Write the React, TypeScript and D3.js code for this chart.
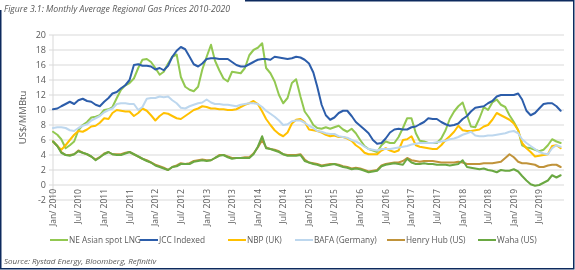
import React, { useEffect, useRef } from 'react';
import * as d3 from 'd3';

// monthly values, Jan 2010 .. Dec 2019 (US$/MMBtu)
const neAsianLng = [
  7.1, 6.7, 6.1, 4.9, 5.3, 5.8, 7.3, 8.0, 8.4, 9.0,
  9.1, 9.3, 10.0, 10.1, 10.4, 11.6, 12.7, 13.3, 13.6, 14.2,
  15.6, 16.7, 16.8, 16.4, 15.6, 14.7, 15.1, 16.2, 17.1, 17.4,
  14.4, 13.1, 12.7, 12.5, 13.1, 15.4, 17.1, 18.7, 16.6, 15.3,
  14.2, 13.8, 15.1, 15.0, 14.9, 15.6, 17.3, 18.0, 18.3, 18.9,
  15.6, 14.9, 13.8, 12.0, 10.9, 11.6, 13.6, 14.1, 11.8, 9.8,
  9.0, 8.0, 7.6, 7.5, 7.7, 7.5, 7.7, 7.9, 7.4, 7.1,
  7.5, 6.9, 6.0, 5.2, 4.8, 4.6, 4.4, 5.3, 5.8, 5.6,
  5.6, 6.4, 7.6, 8.9, 8.9, 6.9, 5.9, 5.8, 5.6, 5.6,
  5.6, 6.2, 7.3, 8.8, 9.8, 10.5, 11.0, 9.3, 7.8, 7.7,
  8.9, 10.4, 10.0, 11.0, 11.4, 10.7, 10.4, 9.3, 8.4, 7.3,
  5.3, 5.0, 4.9, 4.7, 4.5, 4.7, 5.3, 6.1, 5.8, 5.6,
];

const jccIndexed = [
  10.1, 10.2, 10.5, 10.8, 11.1, 10.8, 11.3, 11.5, 11.2, 11.1,
  10.7, 10.5, 11.1, 11.6, 12.2, 12.4, 12.9, 13.3, 14.0, 16.0,
  16.1, 15.9, 15.9, 15.8, 15.4, 15.6, 15.3, 15.9, 17.1, 17.9,
  18.4, 18.1, 17.1, 16.1, 15.8, 16.2, 16.8, 16.9, 16.9, 16.8,
  16.8, 16.8, 16.4, 16.0, 15.8, 15.8, 16.1, 16.4, 16.7, 16.8,
  16.8, 16.7, 17.1, 17.0, 16.9, 16.8, 16.9, 17.1, 17.0, 16.7,
  16.2, 15.0, 13.1, 10.7, 9.3, 8.7, 9.0, 9.6, 9.9, 9.9,
  9.2, 8.4, 7.9, 7.4, 6.9, 6.0, 5.5, 5.6, 6.2, 7.0,
  7.4, 7.5, 7.4, 7.4, 7.7, 7.8, 8.1, 8.4, 8.9, 8.8,
  8.8, 8.4, 8.1, 7.9, 8.0, 8.2, 8.8, 9.2, 9.8, 10.3,
  10.4, 10.5, 10.9, 11.2, 11.8, 12.0, 12.0, 12.0, 12.0, 12.2,
  11.4, 9.9, 9.3, 9.6, 10.2, 10.8, 10.9, 10.9, 10.5, 9.9,
];

const nbpUk = [
  5.8, 5.2, 4.7, 5.3, 6.0, 6.7, 7.2, 7.1, 7.4, 7.8,
  7.9, 8.3, 8.9, 8.8, 9.6, 10.0, 9.9, 9.8, 9.8, 9.2,
  9.6, 10.2, 9.9, 9.3, 8.6, 9.2, 9.6, 9.5, 9.2, 8.9,
  8.8, 9.2, 9.6, 10.0, 10.2, 10.5, 10.4, 10.2, 10.2, 10.1,
  10.1, 10.0, 10.0, 10.1, 10.4, 10.7, 10.9, 11.2, 10.8, 9.8,
  8.8, 8.0, 7.3, 6.8, 6.5, 7.0, 8.2, 8.7, 8.8, 8.4,
  7.4, 7.3, 7.2, 7.0, 6.7, 6.5, 6.6, 6.4, 6.4, 6.2,
  5.9, 5.3, 4.9, 4.3, 4.1, 4.1, 4.1, 4.6, 4.9, 4.6,
  4.4, 4.6, 6.0, 6.1, 6.5, 5.3, 5.1, 5.0, 4.9, 4.8,
  4.8, 5.3, 6.0, 6.5, 7.1, 7.9, 7.3, 7.2, 7.2, 7.3,
  7.4, 7.8, 8.0, 8.7, 9.6, 9.3, 9.0, 8.7, 8.2, 7.3,
  5.6, 4.9, 4.4, 3.8, 3.9, 4.0, 4.1, 5.2, 5.3, 4.9,
];

const bafaGermany = [
  7.6, 7.7, 7.7, 7.6, 7.3, 7.2, 7.6, 7.9, 8.1, 8.6,
  8.9, 9.2, 9.7, 10.0, 10.2, 10.8, 10.9, 10.9, 10.8, 10.8,
  10.0, 10.4, 11.5, 11.6, 11.6, 11.8, 11.7, 11.8, 11.3, 10.9,
  10.3, 10.2, 10.5, 10.7, 10.9, 11.0, 11.4, 11.0, 10.8, 10.8,
  10.7, 10.7, 10.6, 10.5, 10.7, 10.8, 10.9, 10.9, 10.8, 10.4,
  9.9, 9.5, 9.1, 8.6, 8.0, 8.1, 8.5, 8.6, 8.6, 8.3,
  7.9, 7.6, 7.2, 7.1, 6.9, 6.8, 6.8, 6.5, 6.4, 6.3,
  6.0, 5.8, 5.5, 5.1, 4.8, 4.7, 4.6, 4.8, 4.8, 4.8,
  4.9, 5.0, 5.1, 5.2, 5.4, 5.5, 5.6, 5.6, 5.6, 5.6,
  5.7, 5.8, 5.9, 6.1, 6.2, 6.4, 6.7, 6.9, 7.1, 6.6,
  6.5, 6.5, 6.6, 6.6, 6.7, 6.8, 6.9, 7.1, 7.2, 6.9,
  6.1, 5.6, 5.2, 4.8, 4.4, 4.2, 4.1, 4.9, 5.3, 5.1,
];

const henryHub = [
  5.8, 5.2, 4.4, 4.0, 4.0, 4.1, 4.6, 4.3, 4.1, 3.8,
  3.4, 3.7, 4.2, 4.4, 4.1, 4.1, 4.1, 4.3, 4.4, 4.1,
  3.8, 3.5, 3.3, 3.0, 2.7, 2.5, 2.3, 2.0, 2.4, 2.6,
  2.9, 2.8, 2.9, 3.2, 3.3, 3.4, 3.3, 3.3, 3.6, 4.0,
  4.0, 3.8, 3.6, 3.6, 3.6, 3.7, 3.7, 4.2, 5.0, 6.0,
  5.0, 4.8, 4.7, 4.5, 4.1, 4.0, 4.0, 4.0, 4.1, 3.4,
  3.0, 2.9, 2.8, 2.6, 2.7, 2.8, 2.8, 2.7, 2.5, 2.4,
  2.2, 2.3, 2.2, 2.0, 1.8, 1.9, 2.0, 2.6, 2.8, 2.9,
  3.0, 3.0, 3.2, 3.6, 3.3, 3.2, 3.1, 3.2, 3.2, 3.2,
  3.1, 3.0, 3.0, 3.0, 3.0, 3.1, 3.0, 2.8, 2.8, 2.8,
  2.8, 2.9, 2.9, 2.9, 3.0, 3.1, 3.6, 4.1, 3.7, 3.1,
  2.9, 2.9, 2.8, 2.7, 2.4, 2.4, 2.6, 2.7, 2.7, 2.4,
];

const wahaUs = [
  5.8, 5.2, 4.3, 4.0, 3.9, 4.1, 4.5, 4.3, 4.1, 3.8,
  3.3, 3.7, 4.1, 4.4, 4.1, 4.0, 4.0, 4.2, 4.4, 4.1,
  3.8, 3.5, 3.2, 3.0, 2.6, 2.4, 2.2, 2.0, 2.4, 2.5,
  2.8, 2.8, 2.8, 3.1, 3.2, 3.3, 3.2, 3.3, 3.6, 3.9,
  4.0, 3.7, 3.5, 3.6, 3.6, 3.6, 3.6, 4.1, 5.1, 6.5,
  4.9, 4.8, 4.6, 4.4, 4.1, 3.9, 3.9, 3.9, 4.0, 3.2,
  3.0, 2.8, 2.7, 2.5, 2.6, 2.7, 2.8, 2.6, 2.4, 2.3,
  2.1, 2.2, 2.1, 1.9, 1.7, 1.8, 1.9, 2.5, 2.7, 2.8,
  2.9, 2.8, 2.7, 3.5, 3.0, 2.8, 2.8, 2.9, 2.8, 2.8,
  2.7, 2.7, 2.7, 2.6, 2.7, 2.8, 3.3, 2.4, 2.3, 2.2,
  2.1, 2.2, 2.0, 1.9, 1.7, 2.0, 1.9, 1.9, 2.1, 1.8,
  1.2, 0.6, 0.1, -0.1, 0.0, 0.3, 0.6, 1.3, 1.0, 1.3,
];

const seriesNames = ['NE Asian spot LNG', 'JCC Indexed', 'NBP (UK)', 'BAFA (Germany)', 'Henry Hub (US)', 'Waha (US)'];
const seriesColors = ['#92C851', '#2C5DAA', '#FFC000', '#BDD7EE', '#C0933A', '#6AA842'];

const yTicks = [-2, 0, 2, 4, 6, 8, 10, 12, 14, 16, 18, 20];

const xTickLabels = [
  'Jan/ 2010', 'Jul/ 2010', 'Jan/ 2011', 'Jul/ 2011', 'Jan/ 2012',
  'Jul/ 2012', 'Jan/ 2013', 'Jul/ 2013', 'Jan/ 2014', 'Jul/ 2014',
  'Jan/ 2015', 'Jul/ 2015', 'Jan/ 2016', 'Jul/ 2016', 'Jan/ 2017',
  'Jul/ 2017', 'Jan/ 2018', 'Jul/ 2018', 'Jan/ 2019', 'Jul/ 2019',
];

const App = () => {
  const svgRef = useRef<SVGSVGElement>(null);

  useEffect(() => {
    const width = 575;
    const height = 270;
    const font = '"Open Sans", "Noto Sans", sans-serif';
    const textColor = '#595959';

    const svg = d3.select(svgRef.current);
    svg.selectAll('*').remove();
    svg.attr('width', width).attr('height', height);

    const start = new Date(2010, 0, 1);
    const months = d3.range(neAsianLng.length).map((i) => d3.timeMonth.offset(start, i));

    const x = d3.scaleTime().domain([start, new Date(2020, 0, 1)]).range([53, 565]);
    const y = d3.scaleLinear().domain([-2, 20]).range([200, 35]);

    // frame
    svg
      .append('path')
      .attr('d', `M245,0.75 H573.75 V268.75 H0.75 V10`)
      .attr('fill', 'none')
      .attr('stroke', '#0D2A5E')
      .attr('stroke-width', 1.5);

    // title
    svg
      .append('text')
      .attr('x', 4)
      .attr('y', 12)
      .attr('font-family', font)
      .attr('font-style', 'italic')
      .attr('font-size', '8.7px')
      .attr('fill', textColor)
      .text('Figure 3.1: Monthly Average Regional Gas Prices 2010-2020');

    // gridlines
    svg
      .append('g')
      .selectAll('line')
      .data(yTicks)
      .join('line')
      .attr('x1', 53)
      .attr('x2', 564)
      .attr('y1', (d) => y(d))
      .attr('y2', (d) => y(d))
      .attr('stroke', '#D9D9D9')
      .attr('stroke-width', 1);

    // y axis line + ticks
    svg
      .append('line')
      .attr('x1', 53)
      .attr('x2', 53)
      .attr('y1', y(20))
      .attr('y2', y(-2))
      .attr('stroke', '#D9D9D9');
    svg
      .append('g')
      .selectAll('line')
      .data(yTicks)
      .join('line')
      .attr('x1', 49)
      .attr('x2', 53)
      .attr('y1', (d) => y(d))
      .attr('y2', (d) => y(d))
      .attr('stroke', '#D9D9D9');

    svg
      .append('g')
      .selectAll('text')
      .data(yTicks)
      .join('text')
      .attr('x', 46)
      .attr('y', (d) => y(d))
      .attr('dy', '0.35em')
      .attr('text-anchor', 'end')
      .attr('font-family', font)
      .attr('font-size', '9px')
      .attr('fill', textColor)
      .text((d) => d);

    svg
      .append('text')
      .attr('transform', `translate(23, ${y(9)}) rotate(-90)`)
      .attr('text-anchor', 'middle')
      .attr('dy', '0.35em')
      .attr('font-family', font)
      .attr('font-size', '9.5px')
      .attr('fill', textColor)
      .text('US$/MMBtu');

    // x tick labels, every 6 months
    svg
      .append('g')
      .selectAll('text')
      .data(xTickLabels)
      .join('text')
      .attr('transform', (d, i) => `translate(${x(d3.timeMonth.offset(start, i * 6))}, 189) rotate(-90)`)
      .attr('text-anchor', 'end')
      .attr('dy', '0.35em')
      .attr('font-family', font)
      .attr('font-size', '8.5px')
      .attr('fill', textColor)
      .text((d) => d);

    // lines
    const allSeries = [neAsianLng, jccIndexed, nbpUk, bafaGermany, henryHub, wahaUs];
    const line = d3
      .line<number>()
      .x((d, i) => x(months[i]))
      .y((d) => y(d));

    svg
      .append('g')
      .selectAll('path')
      .data(allSeries)
      .join('path')
      .attr('d', (d) => line(d))
      .attr('fill', 'none')
      .attr('stroke', (d, i) => seriesColors[i])
      .attr('stroke-width', 2)
      .attr('stroke-linejoin', 'round')
      .attr('stroke-linecap', 'round');

    // legend
    const legendX = [50, 140, 228, 295, 387, 478];
    const legend = svg
      .append('g')
      .selectAll('g')
      .data(seriesNames)
      .join('g')
      .attr('transform', (d, i) => `translate(${legendX[i]}, 240)`);
    legend
      .append('line')
      .attr('x1', 0)
      .attr('x2', 18)
      .attr('stroke', (d, i) => seriesColors[i])
      .attr('stroke-width', 2);
    legend
      .append('text')
      .attr('x', 19)
      .attr('dy', '0.35em')
      .attr('font-family', font)
      .attr('font-size', '8.3px')
      .attr('fill', textColor)
      .text((d) => d);

    // source
    svg
      .append('text')
      .attr('x', 4)
      .attr('y', 264)
      .attr('font-family', font)
      .attr('font-style', 'italic')
      .attr('font-size', '8px')
      .attr('fill', textColor)
      .text('Source: Rystad Energy, Bloomberg, Refinitiv');
  }, []);

  return <svg ref={svgRef} style={{ position: 'fixed', left: 0, top: 0 }}></svg>;
};

export default App;
